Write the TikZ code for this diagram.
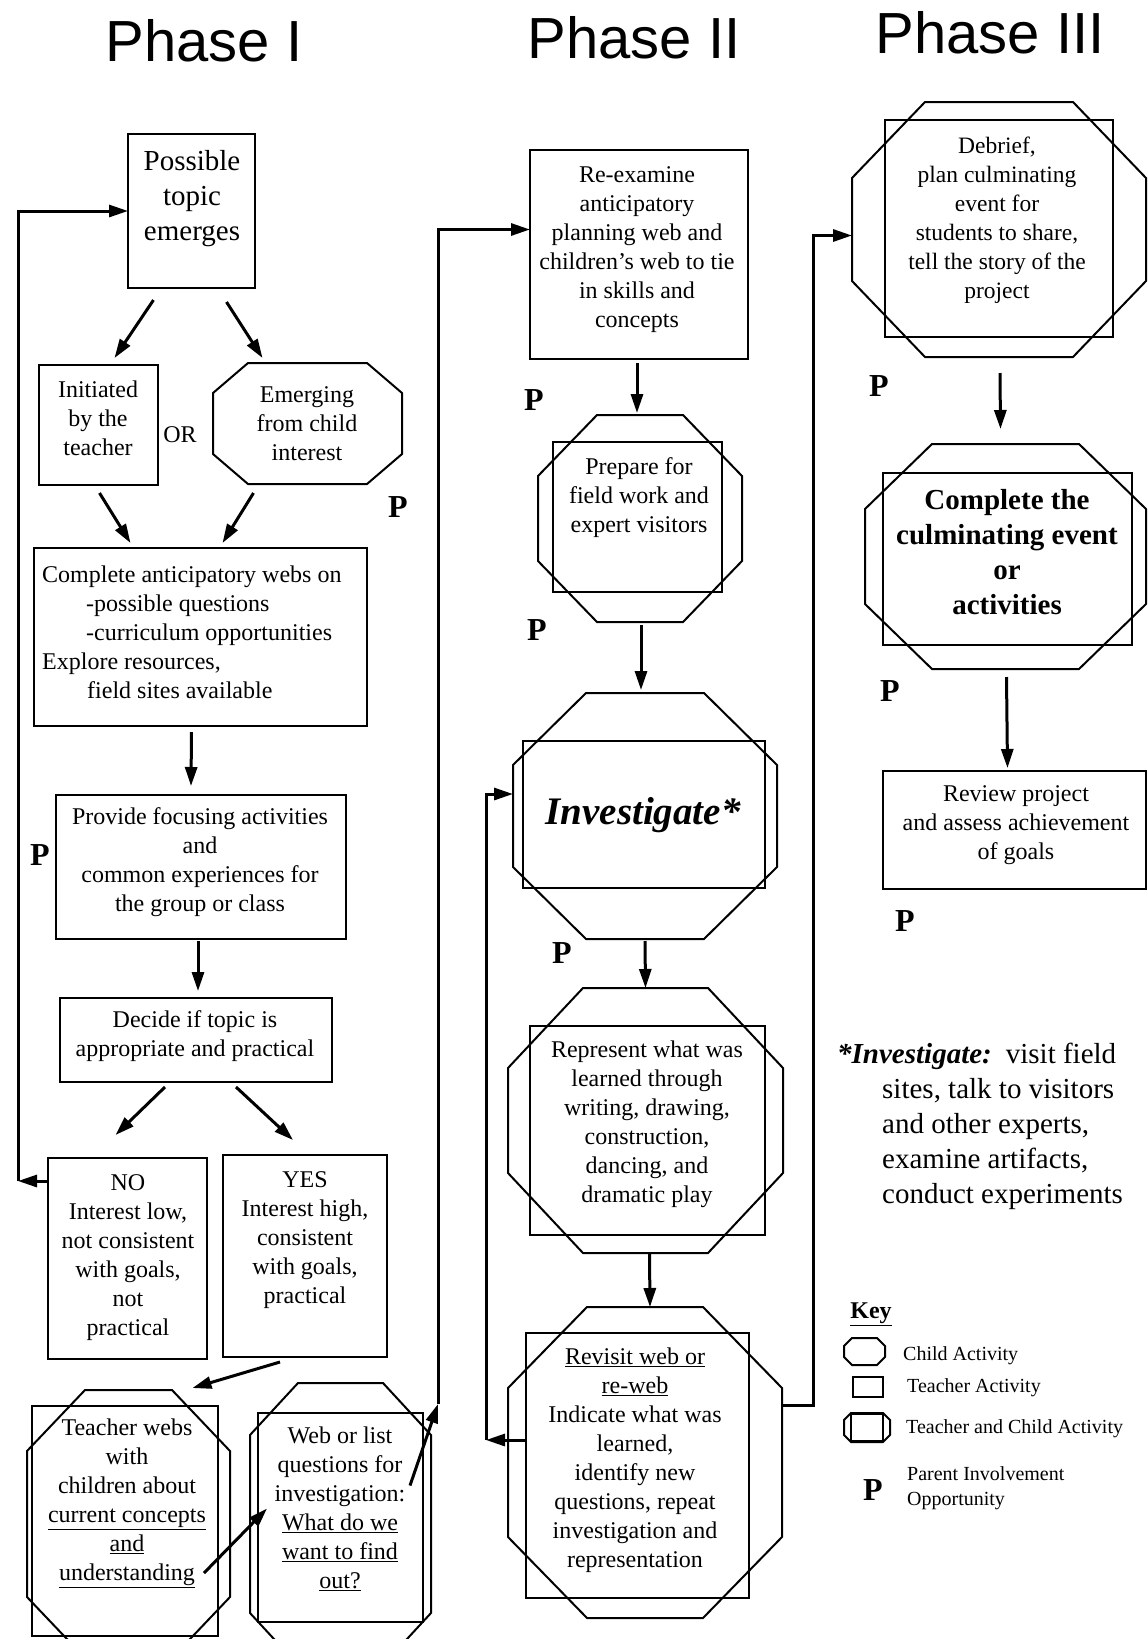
\documentclass[tikz,border=0pt]{standalone}
\usepackage{fontspec}
\setmainfont{Liberation Serif}
\newfontfamily\phasefont{Liberation Sans}
\usetikzlibrary{arrows.meta,fit}

\begin{document}
\begin{tikzpicture}[
  x=1pt, y=-1pt,
  font=\fontsize{24}{29}\selectfont,
  rbox/.style={draw, line width=2.2pt, inner sep=0pt, outer sep=0pt},
  obox/.style={inner sep=0pt, outer sep=0pt},
  octline/.style={line width=2pt, line join=miter},
  txt/.style={align=center, inner sep=0pt},
  bigtxt/.style={txt, font=\fontsize{29}{35}\selectfont},
  keytxt/.style={inner sep=0pt, anchor=west, font=\fontsize{20}{25}\selectfont},
  pmark/.style={inner sep=0pt, font=\fontsize{32}{32}\selectfont\bfseries},
  phase/.style={inner sep=0pt, anchor=base, font=\phasefont\fontsize{58}{58}\selectfont},
  arrow/.style={-{Triangle[length=19pt,width=12pt]}, line width=3pt}
]
\useasboundingbox (0,0) rectangle (1148,1639);

% phase titles
\node[phase] (ph1) at (204,61) {Phase I};
\node[phase] (ph2) at (634,58) {Phase II};
\node[phase] (ph3) at (990,53) {Phase III};

% phase I
\node[rbox, fit={(128,134) (255,288)}] (topic) {};
\node[bigtxt] (topicl) at (192,199) {Possible\\topic\\emerges};
\node[rbox, fit={(39,365) (158,485)}] (teacher) {};
\node[txt] (teacherl) at (98,418) {Initiated\\by the\\teacher};
\node[obox, fit={(213,363) (402,484)}] (child) {};
\node[txt] (childl) at (307,424) {Emerging\\from child\\interest};
\node[txt] (orl) at (180,435) {OR};
\node[rbox, fit={(34,548) (367,726)}] (anticip) {};
\node[txt, align=left, anchor=west] (anticipl) at (42,632)
  {Complete anticipatory webs on\\\hspace*{44pt}-possible questions\\
   \hspace*{44pt}-curriculum opportunities\\Explore resources,\\
   \hspace*{45pt}field sites available};
\node[rbox, fit={(56,795) (346,939)}] (focus) {};
\node[txt] (focusl) at (200,862)
  {Provide focusing activities\\and\\common experiences for\\the group or class};
\node[rbox, fit={(60,998) (332,1082)}] (decide) {};
\node[txt] (decidel) at (195,1036) {Decide if topic is\\appropriate and practical};
\node[rbox, fit={(48,1158) (207,1359)}] (no) {};
\node[txt] (nol) at (128,1258)
  {NO\\Interest low,\\not consistent\\with goals,\\not\\practical};
\node[rbox, fit={(223,1155) (387,1357)}] (yes) {};
\node[txt] (yesl) at (305,1240)
  {YES\\Interest high,\\consistent\\with goals,\\practical};
\node[rbox, fit={(32,1406) (218,1636)}] (tweb) {};
\node[obox, fit={(27,1390) (230,1658)}] (twebo) {};
\node[txt] (twebl) at (127,1503)
  {Teacher webs\\with\\children about\\\underline{current concepts}\\
   \underline{and}\\\underline{understanding}};
\node[rbox, fit={(258,1413) (423,1622)}] (wlist) {};
\node[obox, fit={(250,1383) (431,1665)}] (wlisto) {};
\node[txt] (wlistl) at (340,1509)
  {Web or list\\questions for\\investigation:\\\underline{What do we}\\
   \underline{want to find}\\\underline{out?}};

% phase II
\node[rbox, fit={(530,150) (748,359)}] (reexam) {};
\node[txt] (reexaml) at (637,250)
  {Re-examine\\anticipatory\\planning web and\\children’s web to tie\\
   in skills and\\concepts};
\node[rbox, fit={(553,442) (722,592)}] (prep) {};
\node[obox, fit={(538,415) (742,622)}] (prepo) {};
\node[txt] (prepl) at (639,498) {Prepare for\\field work and\\expert visitors};
\node[rbox, fit={(523,741) (765,888)}] (invest) {};
\node[obox, fit={(513,693) (777,939)}] (investo) {};
\node[txt, font=\fontsize{39}{47}\selectfont\bfseries\itshape] (investl)
  at (643,815) {Investigate*};
\node[rbox, fit={(530,1026) (765,1235)}] (repres) {};
\node[obox, fit={(508,988) (783,1253)}] (represo) {};
\node[txt] (represl) at (647,1124)
  {Represent what was\\learned through\\writing, drawing,\\construction,\\
   dancing, and\\dramatic play};
\node[rbox, fit={(526,1333) (749,1598)}] (revis) {};
\node[obox, fit={(508,1307) (782,1618)}] (reviso) {};
\node[txt] (revisl) at (635,1460)
  {\underline{Revisit web or}\\\underline{re-web}\\Indicate what was\\learned,\\
   identify new\\questions, repeat\\investigation and\\representation};

% phase III
\node[rbox, fit={(885,120) (1113,337)}] (debrief) {};
\node[obox, fit={(852,102) (1146,357)}] (debriefo) {};
\node[txt, font=\fontsize{23.5}{29}\selectfont] (debriefl) at (997,220)
  {Debrief,\\plan culminating\\event for\\students to share,\\
   tell the story of the\\project};
\node[rbox, fit={(883,473) (1132,645)}] (culmin) {};
\node[obox, fit={(865,444) (1146,669)}] (culmino) {};
\node[txt, font=\fontsize{29}{35}\selectfont\bfseries] (culminl) at (1007,552)
  {Complete the\\culminating event\\or\\activities};
\node[rbox, fit={(883,771) (1146,889)}] (review) {};
\node[txt] (reviewl) at (1016,825)
  {Review project\\and assess achievement\\of goals};

\node[bigtxt, align=left, anchor=west] (notel) at (837,1126)
  {\textbf{\textit{*Investigate:}}\hspace{14pt}visit field\\
   \hspace*{45pt}sites, talk to visitors\\\hspace*{45pt}and other experts,\\
   \hspace*{45pt}examine artifacts,\\\hspace*{45pt}conduct experiments};

% key
\node[inner sep=0pt, font=\fontsize{24}{24}\selectfont\bfseries] (keyl)
  at (871,1314) {\underline{Key}};
\node[obox, fit={(844,1338) (885,1365)}] (keyc) {};
\node[keytxt] (keycl) at (903,1356) {Child Activity};
\node[rbox, line width=1.8pt, fit={(853,1377) (883,1397)}] (keyt) {};
\node[keytxt] (keytl) at (907,1388) {Teacher Activity};
\node[rbox, line width=2.6pt, fit={(851,1414) (883,1441)}] (keyb) {};
\node[obox, fit={(844,1413) (890,1442)}] (keybo) {};
\node[keytxt] (keybl) at (906,1429) {Teacher and Child Activity};
\node[pmark] (keyp) at (873,1490) {P};
\node[keytxt, align=left] (keypl) at (907,1488) {Parent Involvement\\Opportunity};

% parent marks
\foreach \n/\px/\py in {p1/398/507, p2/40/855, p3/534/400, p4/537/630,
                        p5/562/953, p6/879/386, p7/890/691, p8/905/921}
  \node[pmark] (\n) at (\px,\py) {P};

% octagons for child activities
\foreach \o/\cx/\cy in {child/35/30, twebo/58/61, wlisto/48/52, prepo/59/61,
    investo/73/72, represo/75/80, reviso/79/81, debriefo/73/76,
    culmino/67/65, keyc/8/8, keybo/7/7} {
  \draw[octline] ([xshift=\cx]\o.north west) -- ([xshift=-\cx]\o.north east)
    -- ([yshift=-\cy]\o.north east) -- ([yshift=\cy]\o.south east)
    -- ([xshift=-\cx]\o.south east) -- ([xshift=\cx]\o.south west)
    -- ([yshift=\cy]\o.south west) -- ([yshift=-\cy]\o.north west) -- cycle;
}

% phase I arrows
\draw[arrow] ([xshift=-38,yshift=-12]topic.south) -- ([xshift=16,yshift=7]teacher.north);
\draw[arrow] ([xshift=35,yshift=-14]topic.south) -- ([xshift=-45,yshift=5]child.north);
\draw[arrow] ([xshift=1,yshift=-8]teacher.south) -- ([xshift=-70,yshift=5]anticip.north);
\draw[arrow] ([xshift=-54,yshift=-9]child.south) -- ([xshift=22,yshift=5]anticip.north);
\draw[arrow] ([xshift=-9,yshift=-6]anticip.south) -- ([xshift=-10,yshift=9]focus.north);
\draw[arrow] ([xshift=-3,yshift=-2]focus.south) -- ([xshift=2,yshift=7]decide.north);
\draw[arrow] ([xshift=-31,yshift=-5]decide.south) -- ([xshift=-12,yshift=23]no.north);
\draw[arrow] ([xshift=40,yshift=-5]decide.south) -- ([xshift=-12,yshift=15]yes.north);
\draw[arrow] ([xshift=-25,yshift=-5]yes.south) -- ([xshift=64,yshift=2]twebo.north);
\draw[arrow] ([xshift=-14,yshift=-52]tweb.east) -- ([xshift=9,yshift=9]wlist.west);
\coordinate (loopL) at (18,1181);
\draw[arrow] (no.west |- loopL) -- (loopL);
\draw[arrow] (loopL) |- (topic.west);
\coordinate (loopM) at (438,1404);
\draw[arrow] ([xshift=-13,yshift=32]wlist.east) -- (loopM);
\draw[arrow] (loopM) |- ([yshift=25]reexam.west);

% phase II arrows
\draw[arrow] ([xshift=-2,yshift=-4]reexam.south) -- ([xshift=-3,yshift=2]prepo.north);
\draw[arrow] ([xshift=1,yshift=-3]prepo.south) -- ([xshift=-4,yshift=3]investo.north);
\draw[arrow] ([yshift=-2]investo.south) -- (represo.north);
\draw[arrow] ([xshift=4,yshift=-1]represo.south) -- ([xshift=5]reviso.north);
\coordinate (loopR) at (486,1440);
\draw[arrow] (revis.west |- loopR) -- (loopR);
\draw[arrow] (loopR) |- ([yshift=22]investo.west);
\coordinate (loopE) at (813,1405);
\draw[arrow] (reviso.east |- loopE) -- (loopE) |- ([yshift=-6]debriefo.west);

% phase III arrows
\draw[arrow] ([xshift=1,yshift=-16]debriefo.south) -- ([xshift=-5,yshift=15]culmino.north);
\draw[arrow] ([xshift=1,yshift=-8]culmino.south) -- ([xshift=-7,yshift=3]review.north);
\end{tikzpicture}
\end{document}
